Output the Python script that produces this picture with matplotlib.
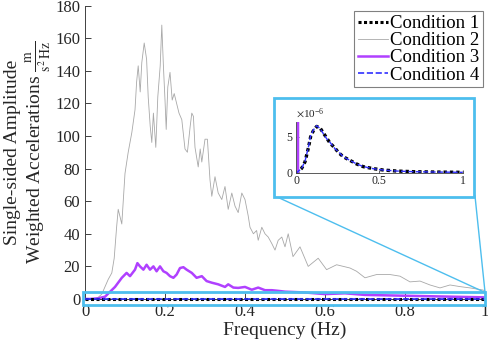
import matplotlib
matplotlib.use("Agg")
from matplotlib import pyplot as plt
from matplotlib.patches import Rectangle
from matplotlib.lines import Line2D

plt.rcParams['font.family'] = ['Liberation Serif', 'DejaVu Serif']
plt.rcParams['mathtext.fontset'] = 'stix'

# condition 2 (gray)
f2 = [0, 0.02, 0.033, 0.042, 0.05, 0.058, 0.067, 0.073, 0.079, 0.083,
      0.088, 0.092, 0.1, 0.108, 0.117, 0.125, 0.129, 0.133, 0.138, 0.142,
      0.148, 0.154, 0.158, 0.163, 0.167, 0.171, 0.177, 0.182, 0.188, 0.192,
      0.196, 0.2, 0.203, 0.207, 0.2125, 0.218, 0.223, 0.229, 0.235, 0.242,
      0.25, 0.256, 0.263, 0.267, 0.271, 0.275, 0.283, 0.288, 0.292, 0.3,
      0.306, 0.3125, 0.317, 0.325, 0.333, 0.342, 0.35, 0.358, 0.367, 0.375,
      0.383, 0.392, 0.4, 0.408, 0.4125, 0.421, 0.429, 0.433, 0.442, 0.45,
      0.458, 0.467, 0.475, 0.483, 0.492, 0.5, 0.508, 0.52, 0.5375, 0.558,
      0.583, 0.604, 0.629, 0.6625, 0.679, 0.7, 0.729, 0.7625, 0.7875, 0.8125,
      0.8375, 0.8625, 0.8875, 0.9125, 0.9375, 0.9625, 0.995, 1.0]
c2 = [0, 0.3, 1, 3, 7.5, 12, 16, 25, 44, 55,
      50, 46, 77, 90, 102, 116, 133, 143, 127, 145,
      157, 147, 124, 106, 96, 114, 93, 124, 143, 168,
      143, 122, 104, 130, 139, 122, 126, 120, 114, 110,
      92, 90, 106, 114, 112, 93, 81, 92, 84, 98,
      98, 73, 63, 75, 65, 61, 69, 55, 65, 57,
      53, 65, 61, 51, 44, 40, 42, 36, 44, 40,
      38, 34, 30, 36, 38, 32, 40, 26, 32, 20,
      25, 18, 21, 19, 17, 13, 15, 15, 14, 10.5,
      11, 8.6, 6.8, 8.6, 7.6, 6.8, 5.5, 5]

# condition 3 (purple)
f3 = [0, 0.012, 0.03, 0.05, 0.075, 0.092, 0.104, 0.1125, 0.125, 0.131,
      0.1375, 0.146, 0.154, 0.1625, 0.171, 0.179, 0.1875, 0.196, 0.204, 0.2125,
      0.221, 0.229, 0.2375, 0.246, 0.254, 0.267, 0.279, 0.292, 0.304, 0.317,
      0.333, 0.35, 0.358, 0.371, 0.383, 0.4, 0.417, 0.433, 0.45, 0.467,
      0.483, 0.5, 0.55, 0.6, 0.65, 0.7, 0.8, 0.9, 1.0]
c3 = [0, 0, 0.3, 1.4, 7.4, 13, 16, 14, 18, 22,
      20, 18, 21, 18, 20, 17, 20, 17, 16, 14,
      13, 15, 19, 19.5, 18, 16, 13, 14, 11, 10,
      9, 7.4, 9, 7, 6.8, 7.4, 5.7, 7, 5.4, 5.4,
      5, 4.5, 4, 3, 3.5, 2.5, 2, 1.5, 1]

# conditions 1 and 4, in units of 1e-6
f1 = [0, 0.004, 0.034, 0.054, 0.074, 0.088, 0.104, 0.124, 0.144, 0.164,
      0.184, 0.204, 0.234, 0.254, 0.284, 0.324, 0.364, 0.404, 0.464, 0.524,
      0.604, 0.704, 0.844, 1.0]
c1 = [0, 0, 0.6, 1.5, 3.4, 5.0, 5.8, 6.4, 6.2, 5.5,
      4.8, 4.1, 3.4, 2.8, 2.2, 1.7, 1.2, 0.83, 0.56, 0.37,
      0.23, 0.14, 0.09, 0.05]
c4 = [0, 0, 0.6, 1.6, 3.5, 5.1, 5.9, 6.5, 6.1, 5.4,
      4.7, 4.2, 3.3, 2.9, 2.2, 1.7, 1.2, 0.85, 0.55, 0.37,
      0.23, 0.14, 0.09, 0.05]
scale = 1e-6

labels = ['Condition 1', 'Condition 2', 'Condition 3', 'Condition 4']
xticks = [0, 0.2, 0.4, 0.6, 0.8, 1]
xticklabels = ['0', '0.2', '0.4', '0.6', '0.8', '1']
yticks = [0, 20, 40, 60, 80, 100, 120, 140, 160, 180]

purple = '#B040FF'
blue = '#3030FF'
cyan = '#4DBEEE'
gray_ax = '#404040'

W, H = 488, 348
fig = plt.figure(figsize=(4.88, 3.48), dpi=100)
ax = fig.add_axes([85 / W, 1 - 299 / H, 400 / W, 293.5 / H])

y1 = [v * scale for v in c1]
y4 = [v * scale for v in c4]
l1, = ax.plot(f1, y1, color='black', lw=2.2, ls=(0, (1, 0.8)), clip_on=False, zorder=4)
l2, = ax.plot(f2, c2, color='#A8A8A8', lw=0.6, zorder=2)
l3, = ax.plot(f3, c3, color=purple, lw=1.8, zorder=3)
l4, = ax.plot(f1, y4, color=blue, lw=1.2, ls='--', clip_on=False, zorder=5)

ax.set_xlim(0, 1)
ax.set_ylim(0, 180)
ax.set_xticks(xticks)
ax.set_xticklabels(xticklabels)
ax.set_yticks(yticks)
for s in ['top', 'right']:
    ax.spines[s].set_visible(False)
for s in ['left', 'bottom']:
    ax.spines[s].set_color(gray_ax)
    ax.spines[s].set_linewidth(0.7)
ax.tick_params(direction='in', length=4, width=0.7, colors=gray_ax, labelsize=12,
               labelcolor='#262626')
ax.set_xlabel('Frequency (Hz)', fontsize=14, color='#262626', labelpad=1)
ax.set_ylabel('Single-sided Amplitude\nWeighted Accelerations '
              r'$\frac{\mathrm{m}}{\mathrm{s}^2\,\mathrm{Hz}}$',
              fontsize=14, color='#262626', labelpad=1)

leg = ax.legend([l1, l2, l3, l4], labels, loc='upper right', bbox_to_anchor=(0.995, 0.98),
                fontsize=13.5, handlelength=1.6, handletextpad=0.1, labelspacing=0.0,
                borderpad=0.2, borderaxespad=0, fancybox=False, framealpha=1)
leg.get_frame().set_edgecolor('#808080')
leg.get_frame().set_linewidth(0.8)

# zoom rectangle on the main axes
ax.add_patch(Rectangle((-0.005, -3.5), 1.005, 7.6, fill=False, edgecolor=cyan,
                       lw=2, clip_on=False, zorder=6))

# inset frame and connectors
fig.patches.append(Rectangle((274 / W, 1 - 197 / H), 200 / W, 99 / H,
                             transform=fig.transFigure, facecolor='white',
                             edgecolor=cyan, lw=2, zorder=1))
fig.lines.append(Line2D([275 / W, 484 / W], [1 - 196 / H, 1 - 292 / H],
                        transform=fig.transFigure, color=cyan, lw=1, zorder=1))
fig.lines.append(Line2D([475 / W, 485 / W], [1 - 196 / H, 1 - 292 / H],
                        transform=fig.transFigure, color=cyan, lw=1, zorder=1))

ins = fig.add_axes([296 / W, 1 - 172.7 / H, 166.7 / W, 51 / H], zorder=2)
ins.plot(f1, y1, color='black', lw=2.4, ls=(0, (1, 0.9)))
ins.plot(f3, c3, color=purple, lw=1.8)
ins.plot(f1, y4, color=blue, lw=1.0, ls='--')
ins.set_xlim(0, 1)
ins.set_ylim(0, 7.05e-6)
ins.set_xticks([0, 0.5, 1])
ins.set_xticklabels(['0', '0.5', '1'])
ins.set_yticks([0, 5e-6])
ins.ticklabel_format(axis='y', style='sci', scilimits=(0, 0), useMathText=True)
ins.yaxis.get_offset_text().set_fontsize(8)
ins.yaxis.get_offset_text().set_color('#505050')
for s in ['top', 'right']:
    ins.spines[s].set_visible(False)
for s in ['left', 'bottom']:
    ins.spines[s].set_color(gray_ax)
    ins.spines[s].set_linewidth(0.6)
ins.tick_params(direction='in', length=2.5, width=0.6, colors=gray_ax, labelsize=8.5,
                labelcolor='#262626', pad=2)

fig.savefig('out.png', dpi=100)
